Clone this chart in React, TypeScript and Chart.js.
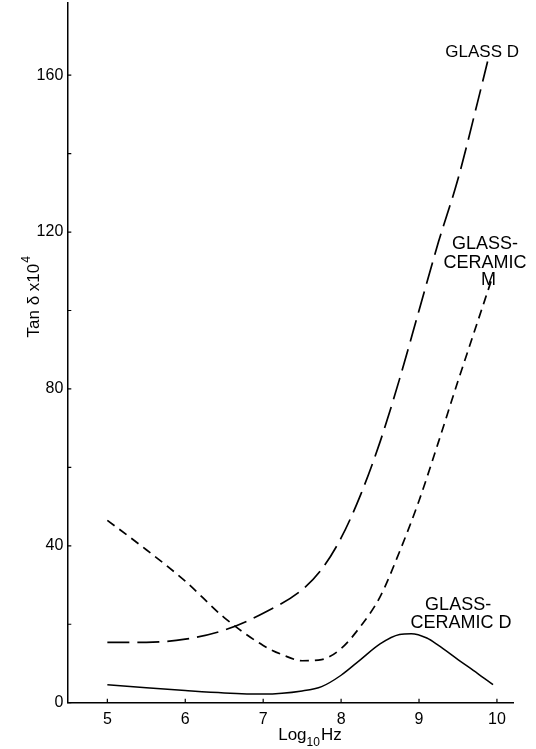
import { useEffect, useRef } from 'react';
import { Chart, registerables } from 'chart.js';

Chart.register(...registerables);

// ---- data ----
const glassDX = [5.0, 5.5, 6.0, 6.5, 7.0, 7.5, 7.75, 8.0, 8.25, 8.5, 8.75, 9.0, 9.25, 9.5, 9.75, 9.88];
const glassDY = [15.4, 15.4, 16.2, 18.5, 22.8, 28.8, 34, 42, 53, 66.5, 82.5, 100, 117.5, 133.5, 153, 163.5];

const gcMX = [5.0, 5.5, 6.0, 6.5, 7.0, 7.25, 7.5, 7.75, 8.0, 8.25, 8.5, 8.75, 9.0, 9.25, 9.5, 9.75, 9.95];
const gcMY = [46.5, 39, 31, 21.7, 14.6, 12.2, 10.7, 11.0, 13.8, 19.5, 27, 38.5, 51.5, 66.5, 82, 97, 109];

const gcDX = [5.0, 5.5, 6.0, 6.5, 7.0, 7.5, 7.75, 8.0, 8.25, 8.5, 8.75, 8.9, 9.1, 9.25, 9.5, 9.75, 9.95];
const gcDY = [4.6, 3.8, 3.1, 2.5, 2.2, 3.0, 4.1, 7.0, 11.0, 15.0, 17.4, 17.6, 16.5, 14.6, 11.0, 7.5, 4.6];

const xTicks = [5, 6, 7, 8, 9, 10];
const yTicks = [0, 40, 80, 120, 160];
const yMinorTicks = [20, 60, 100, 140];

const seriesNames = ['GLASS D', 'GLASS-CERAMIC M', 'GLASS-CERAMIC D'];

// curve labels, anchored in data units
const curveLabels = [
  { text: 'GLASS D', x: 9.81, y: 165.7, size: 17 },
  { text: 'GLASS-', x: 9.846, y: 116.9, size: 18 },
  { text: 'CERAMIC', x: 9.846, y: 112.2, size: 18 },
  { text: 'M', x: 9.893, y: 107.8, size: 18 },
  { text: 'GLASS-', x: 9.502, y: 24.9, size: 18 },
  { text: 'CERAMIC D', x: 9.54, y: 20.2, size: 18 },
];

const FONT = '"Liberation Sans", Arial, sans-serif';

const toPts = (xs: number[], ys: number[]) => xs.map((x, i) => ({ x, y: ys[i] }));

const decorPlugin = {
  id: 'decor',
  beforeDraw(chart: any) {
    const { ctx, width, height } = chart;
    ctx.save();
    ctx.fillStyle = '#fff';
    ctx.fillRect(0, 0, width, height);
    ctx.restore();
  },
  afterDraw(chart: any) {
    const { ctx, chartArea } = chart;
    const xs = chart.scales.x;
    const ys = chart.scales.y;
    ctx.save();
    ctx.strokeStyle = '#000';
    ctx.lineWidth = 1.2;
    // inward ticks
    ctx.beginPath();
    [...yTicks, ...yMinorTicks].forEach((v) => {
      const py = ys.getPixelForValue(v);
      ctx.moveTo(chartArea.left, py);
      ctx.lineTo(chartArea.left + 4, py);
    });
    xTicks.forEach((v) => {
      const px = xs.getPixelForValue(v);
      ctx.moveTo(px, chartArea.bottom);
      ctx.lineTo(px, chartArea.bottom - 4);
    });
    ctx.stroke();

    // curve labels
    ctx.fillStyle = '#000';
    ctx.textAlign = 'center';
    ctx.textBaseline = 'middle';
    curveLabels.forEach((l) => {
      ctx.font = `${l.size}px ${FONT}`;
      ctx.fillText(l.text, xs.getPixelForValue(l.x), ys.getPixelForValue(l.y));
    });

    // x axis title: Log10Hz
    const big = `17px ${FONT}`;
    const small = `12px ${FONT}`;
    ctx.font = big;
    const wLog = ctx.measureText('Log').width;
    const wHz = ctx.measureText('Hz').width;
    ctx.font = small;
    const w10 = ctx.measureText('10').width;
    const total = wLog + w10 + wHz + 1;
    const cx = xs.getPixelForValue(7.6);
    const base = chartArea.bottom + 37;
    let sx = cx - total / 2;
    ctx.textAlign = 'left';
    ctx.textBaseline = 'alphabetic';
    ctx.font = big;
    ctx.fillText('Log', sx, base);
    sx += wLog;
    ctx.font = small;
    ctx.fillText('10', sx, base + 6);
    sx += w10 + 1;
    ctx.font = big;
    ctx.fillText('Hz', sx, base);

    // y axis title: Tan δ x10^4
    ctx.save();
    const ty = ys.getPixelForValue(103.5);
    ctx.translate(chartArea.left - 33, ty);
    ctx.rotate(-Math.PI / 2);
    ctx.font = `17px ${FONT}`;
    const main = 'Tan δ x10';
    const wMain = ctx.measureText(main).width;
    ctx.font = `12px ${FONT}`;
    const w4 = ctx.measureText('4').width;
    const tw = wMain + w4 + 1;
    ctx.font = `17px ${FONT}`;
    ctx.textBaseline = 'middle';
    ctx.fillText(main, -tw / 2, 0);
    ctx.font = `12px ${FONT}`;
    ctx.fillText('4', -tw / 2 + wMain + 1, -8);
    ctx.restore();

    ctx.restore();
  },
};

export default function App() {
  const ref = useRef<HTMLCanvasElement | null>(null);

  useEffect(() => {
    if (!ref.current) return;
    const chart = new Chart(ref.current, {
      type: 'line',
      data: {
        datasets: [
          {
            label: seriesNames[0],
            data: toPts(glassDX, glassDY),
            borderColor: '#000',
            borderWidth: 1.7,
            borderDash: [22, 8],
            pointRadius: 0,
            cubicInterpolationMode: 'monotone',
            fill: false,
          },
          {
            label: seriesNames[1],
            data: toPts(gcMX, gcMY),
            borderColor: '#000',
            borderWidth: 1.7,
            borderDash: [9, 6],
            pointRadius: 0,
            cubicInterpolationMode: 'monotone',
            fill: false,
          },
          {
            label: seriesNames[2],
            data: toPts(gcDX, gcDY),
            borderColor: '#000',
            borderWidth: 1.5,
            pointRadius: 0,
            cubicInterpolationMode: 'monotone',
            fill: false,
          },
        ],
      },
      options: {
        responsive: false,
        animation: false,
        layout: { padding: { top: 3, right: 22.7, left: 0, bottom: 0 } },
        plugins: {
          legend: { display: false },
          tooltip: { enabled: false },
          title: { display: false },
        },
        scales: {
          x: {
            type: 'linear',
            min: 4.486,
            max: 10.21,
            grid: { display: false, drawTicks: false },
            border: { display: true, color: '#000', width: 1.5 },
            ticks: {
              color: '#000',
              font: { size: 16, family: FONT },
              padding: 7,
              maxRotation: 0,
              autoSkip: false,
            },
            afterBuildTicks: (s: any) => {
              s.ticks = xTicks.map((v) => ({ value: v }));
            },
            afterFit: (s: any) => {
              s.height = 46.3;
              s.paddingLeft = 0;
              s.paddingRight = 0;
            },
          },
          y: {
            type: 'linear',
            min: 0,
            max: 178.4,
            grid: { display: false, drawTicks: false },
            border: { display: true, color: '#000', width: 1.5 },
            ticks: {
              color: '#000',
              font: { size: 16, family: FONT },
              padding: 4,
              autoSkip: false,
            },
            afterBuildTicks: (s: any) => {
              s.ticks = yTicks.map((v) => ({ value: v }));
            },
            afterFit: (s: any) => {
              s.width = 67.3;
              s.paddingTop = 0;
              s.paddingBottom = 0;
            },
          },
        },
      },
      plugins: [decorPlugin],
    } as any);
    return () => chart.destroy();
  }, []);

  return (
    <div style={{ position: 'fixed', left: 0, top: 0, width: 536, height: 749, background: '#fff' }}>
      <canvas ref={ref} width={536} height={749} style={{ width: 536, height: 749, display: 'block' }} />
    </div>
  );
}
